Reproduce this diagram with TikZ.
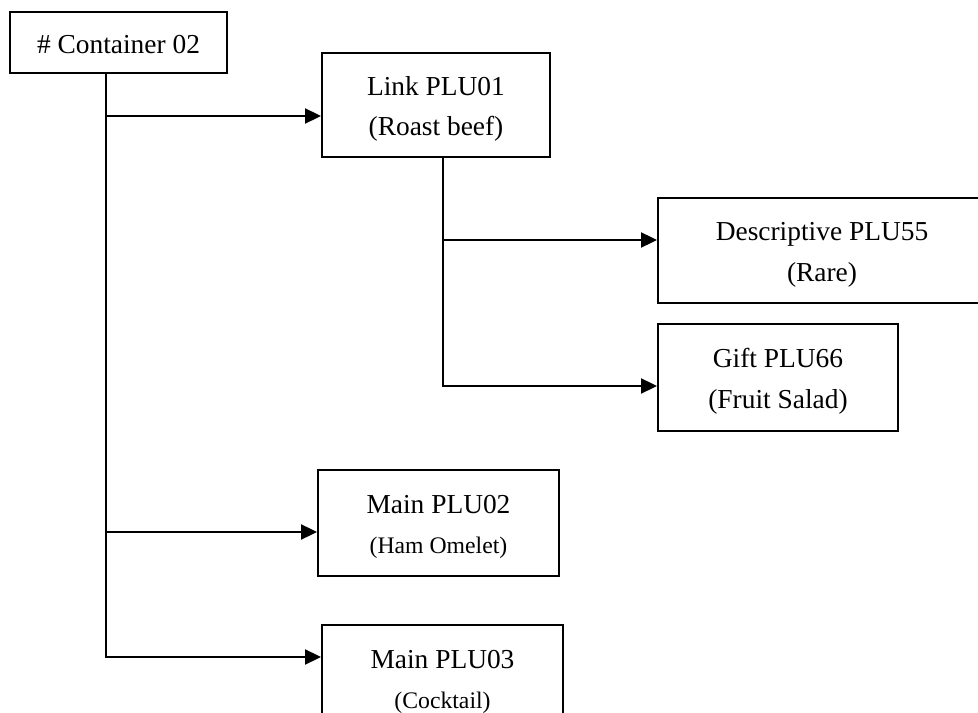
\documentclass[tikz,border=0pt]{standalone}
\usepackage{fontspec}
\setmainfont{Liberation Serif}
\usetikzlibrary{arrows.meta}
\begin{document}
\begin{tikzpicture}[x=.02cm,y=-.02cm,
                    line/.style={line width=1.1pt},
                    arr/.style={line,-{Triangle[length=.32cm,width=.3cm]}},
                    box/.style={draw,line width=1.1pt,rectangle,inner sep=0pt,align=center,
                                font=\fontsize{15.6}{23}\selectfont},
                    twoline/.style={box,text height=38.2pt,text depth=3.4pt}]
 \clip (0,0) rectangle (978,713);
 \node[box,text height=12.8pt,text depth=0pt,minimum width=4.34cm,minimum height=1.22cm] (cont) at (118.5,42.5) {\# Container 02};
 \node[twoline,minimum width=4.56cm,minimum height=2.08cm] (link) at (436,105) {Link PLU01\\(Roast beef)};
 \node[twoline,minimum width=6.56cm,minimum height=2.1cm] (desc) at (822,250.5) {Descriptive PLU55\\(Rare)};
 \node[twoline,minimum width=4.8cm,minimum height=2.14cm] (gift) at (778,377.5) {Gift PLU66\\(Fruit Salad)};
 \node[twoline,minimum width=4.82cm,minimum height=2.12cm] (m02) at (438.5,523) {Main PLU02\\{\fontsize{13.5}{24}\selectfont(Ham Omelet)}};
 \node[twoline,minimum width=4.82cm,minimum height=2.12cm] (m03) at (442.5,678) {Main PLU03\\{\fontsize{13.5}{24}\selectfont(Cocktail)}};
 \coordinate (b1) at (106,116); \coordinate (b2) at (106,532); \coordinate (b3) at (106,657);
 \coordinate (d1) at (443,240); \coordinate (d2) at (443,386);
 \draw[arr] (cont.south -| b1) |- (b3 -| m03.west);
 \draw[arr] (b1) -- (b1 -| link.west);
 \draw[arr] (b2) -- (b2 -| m02.west);
 \draw[arr] (link.south -| d1) |- (d2 -| gift.west);
 \draw[arr] (d1) -- (d1 -| desc.west);
\end{tikzpicture}
\end{document}
